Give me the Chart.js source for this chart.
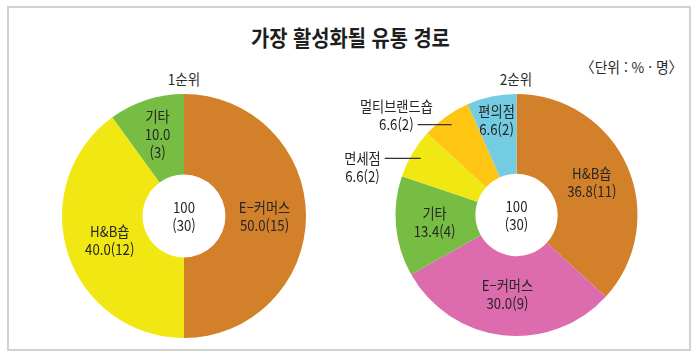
<!DOCTYPE html>
<html lang="ko">
<head>
<meta charset="utf-8">
<title>가장 활성화될 유통 경로</title>
<script src="https://cdn.jsdelivr.net/npm/chart.js@4/dist/chart.umd.min.js"></script>
<style>
  html, body { margin: 0; padding: 0; background: #fff; }
  body { width: 700px; height: 360px; position: relative; overflow: hidden;
         font-family: "Noto Sans CJK KR", "Noto Sans", sans-serif; color: #2a2a2a; }
  .frame { position: absolute; left: 7px; top: 6px; width: 684px; height: 345px;
           box-sizing: border-box; border: 2px solid #d2d2d2; }
  .title { position: absolute; left: 0; top: 21px; width: 700px; text-align: center;
           font-size: 22px; font-weight: bold; line-height: 30px; color: #1e1e1e; }
  .title span { display: inline-block; transform: scaleX(0.9); }
  .unit { position: absolute; right: 18px; top: 57px; font-size: 15px; line-height: 20px;
          transform: scaleX(0.92); transform-origin: right center; }
  .rank { position: absolute; top: 69px; width: 80px; text-align: center; font-size: 15px;
          line-height: 20px; transform: scaleX(0.9); }
  canvas { position: absolute; }
</style>
</head>
<body>
<div class="frame"></div>
<div class="title"><span>가장 활성화될 유통 경로</span></div>
<div class="unit">〈단위 : % · 명〉</div>
<div class="rank" style="left:144px">1순위</div>
<div class="rank" style="left:476px">2순위</div>
<canvas id="firstChart" width="368" height="290" style="left:0;top:70px"></canvas>
<canvas id="secondChart" width="368" height="290" style="left:332px;top:70px"></canvas>
<script>
"use strict";
// data
const firstLabels = ["E–커머스", "H&B숍", "기타"];
const firstShare = [50.0, 40.0, 10.0];
const firstCount = [15, 12, 3];

const secondLabels = ["H&B숍", "E–커머스", "기타", "면세점", "멀티브랜드숍", "편의점"];
const secondShare = [36.8, 30.0, 13.4, 6.6, 6.6, 6.6];
const secondCount = [11, 9, 4, 2, 2, 2];

const totalShare = 100;
const totalCount = 30;

const orange = "#d3802a";
const yellow = "#f1e713";
const green = "#78bd43";
const pink = "#dc6cad";
const amber = "#fec513";
const sky = "#74cce3";

const FONT = '15px "Noto Sans CJK KR", "Noto Sans", sans-serif';
const SQUEEZE = 0.88;
const LINE_H = 18;

function textWidth(ctx, s) {
  return ctx.measureText(s).width * SQUEEZE;
}

function drawText(ctx, s, x, y) {
  ctx.save();
  ctx.translate(x, y);
  ctx.scale(SQUEEZE, 1);
  ctx.fillText(s, 0, 0);
  ctx.restore();
}

// slice labels, center total and leader lines
const sliceText = {
  id: "sliceText",
  afterDatasetsDraw(chart, args, opts) {
    const ctx = chart.ctx;
    const arcs = chart.getDatasetMeta(0).data;
    ctx.save();
    ctx.font = FONT;
    ctx.fillStyle = "#262626";
    ctx.textBaseline = "middle";
    ctx.textAlign = "center";

    arcs.forEach((arc, i) => {
      const p = arc.getProps(["x", "y", "startAngle", "endAngle", "innerRadius", "outerRadius"], true);
      const mid = (p.startAngle + p.endAngle) / 2;
      const lines = opts.lines[i];
      const out = opts.outside ? opts.outside[i] : null;

      if (out) {
        const r = p.outerRadius * 0.92;
        const ax = p.x + Math.cos(mid) * r;
        const ay = p.y + Math.sin(mid) * r;
        const w = textWidth(ctx, lines[out.row]);
        const cx = ax - out.len - 4 - w / 2;
        lines.forEach((s, k) => drawText(ctx, s, cx, ay + (k - out.row) * LINE_H));
        ctx.strokeStyle = "#333";
        ctx.lineWidth = 1.2;
        ctx.beginPath();
        ctx.moveTo(ax - out.len, ay);
        ctx.lineTo(ax, ay);
        ctx.stroke();
      } else {
        const rf = (opts.radius && opts.radius[i]) || 0.66;
        const r = p.outerRadius * rf;
        const cx = p.x + Math.cos(mid) * r;
        const cy = p.y + Math.sin(mid) * r;
        const top = cy - (lines.length - 1) * LINE_H / 2;
        lines.forEach((s, k) => drawText(ctx, s, cx, top + k * LINE_H));
      }
    });

    const c = arcs[0];
    drawText(ctx, String(totalShare), c.x, c.y - LINE_H / 2);
    drawText(ctx, "(" + totalCount + ")", c.x, c.y + LINE_H / 2);
    ctx.restore();
  }
};

function pct(v) {
  return v.toFixed(1);
}

const firstLines = firstLabels.map((name, i) => {
  if (firstShare[i] < 15) return [name, pct(firstShare[i]), "(" + firstCount[i] + ")"];
  return [name, pct(firstShare[i]) + "(" + firstCount[i] + ")"];
});
const secondLines = secondLabels.map((name, i) => [name, pct(secondShare[i]) + "(" + secondCount[i] + ")"]);

function donut(id, labels, values, colors, padding, labelOpts) {
  return new Chart(document.getElementById(id), {
    type: "doughnut",
    data: {
      labels: labels,
      datasets: [{
        data: values,
        backgroundColor: colors,
        borderWidth: 0,
        hoverOffset: 0,
      }],
    },
    options: {
      responsive: false,
      animation: false,
      cutout: "34%",
      events: [],
      layout: { padding: padding },
      plugins: {
        legend: { display: false },
        tooltip: { enabled: false },
        sliceText: labelOpts,
      },
    },
    plugins: [sliceText],
  });
}

donut("firstChart", firstLabels, firstShare, [orange, yellow, green],
  { left: 62, right: 62, top: 24, bottom: 22 },
  { lines: firstLines, radius: [0.66, 0.64, 0.7] });

donut("secondChart", secondLabels, secondShare, [orange, pink, green, yellow, amber, sky],
  { left: 63, right: 62, top: 24, bottom: 24 },
  {
    lines: secondLines,
    radius: [0.68, 0.66, 0.68, 0, 0, 0.8],
    outside: [null, null, null, { row: 0, len: 36 }, { row: 1, len: 34 }, null],
  });
</script>
</body>
</html>
